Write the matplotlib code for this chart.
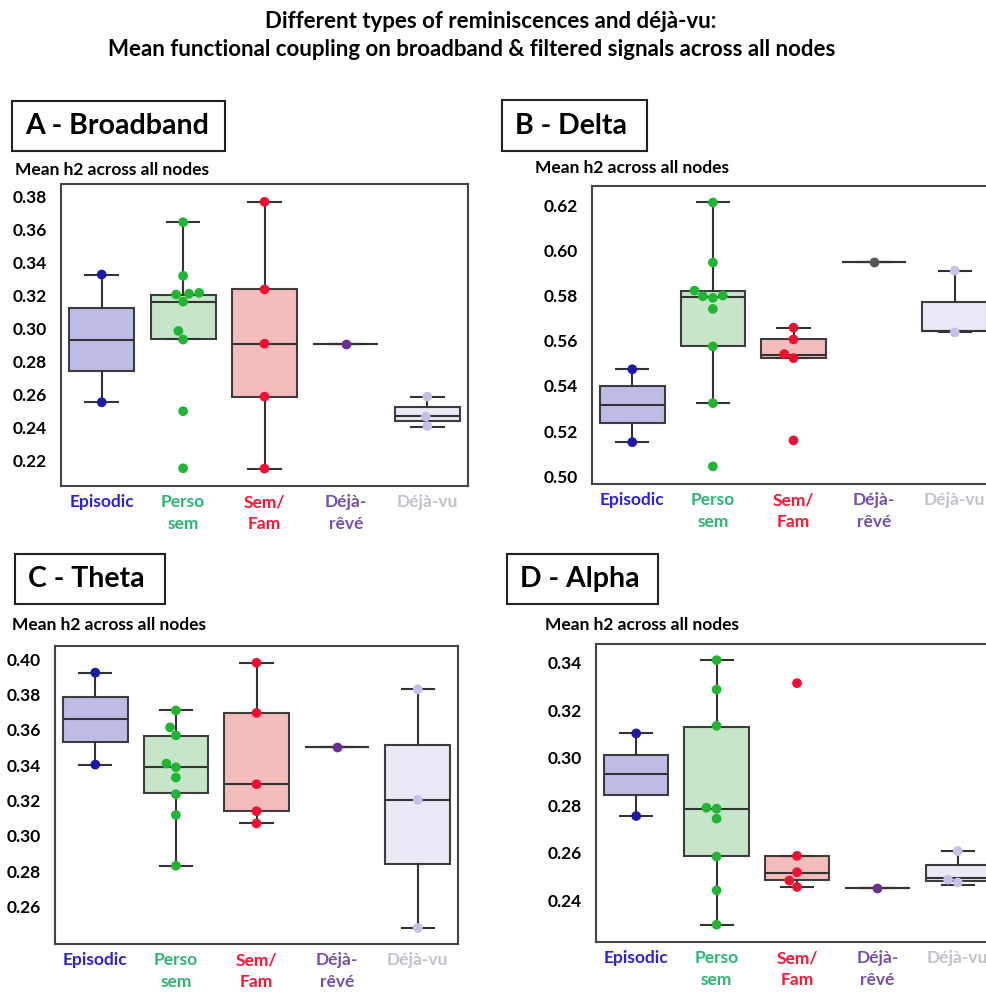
import matplotlib
matplotlib.use("Agg")
import matplotlib.pyplot as plt
from matplotlib.patches import Rectangle
import seaborn as sns
import pandas as pd

plt.rcParams['font.family'] = ['Lato', 'DejaVu Sans']
plt.rcParams['font.weight'] = 'bold'

categories = ['Episodic', 'Perso sem', 'Sem/Fam', 'Déjà-rêvé', 'Déjà-vu']
tick_labels = ['Episodic', 'Perso\nsem', 'Sem/\nFam', 'Déjà-\nrêvé', 'Déjà-vu']

# Box statistics (whisker low, Q1, median, Q3, whisker high)
broadband_lo = [0.2554, 0.2939, 0.2153, 0.2908, 0.2404]
broadband_q1 = [0.2741, 0.2939, 0.2588, 0.2908, 0.2438]
broadband_med = [0.2933, 0.3162, 0.2908, 0.2908, 0.2468]
broadband_q3 = [0.3124, 0.3201, 0.3236, 0.2908, 0.2528]
broadband_hi = [0.3326, 0.3642, 0.3765, 0.2908, 0.2588]
broadband_pts = [[0.3326, 0.2554],
                 [0.3642, 0.3318, 0.3215, 0.3210, 0.3205, 0.3162, 0.2985, 0.2933, 0.2500, 0.2155],
                 [0.3765, 0.3236, 0.2908, 0.2588, 0.2153],
                 [0.2908],
                 [0.2588, 0.2468, 0.2410]]

delta_lo = [0.5151, 0.5324, 0.5523, 0.5950, 0.5637]
delta_q1 = [0.5237, 0.5575, 0.5525, 0.5950, 0.5641]
delta_med = [0.5317, 0.5793, 0.5535, 0.5950, 0.5641]
delta_q3 = [0.5398, 0.5819, 0.5610, 0.5950, 0.5772]
delta_hi = [0.5474, 0.6212, 0.5658, 0.5950, 0.5910]
delta_pts = [[0.5474, 0.5151],
             [0.6212, 0.5946, 0.5822, 0.5800, 0.5797, 0.5790, 0.5741, 0.5575, 0.5324, 0.5044],
             [0.5658, 0.5606, 0.5541, 0.5523, 0.5159],
             [0.5950],
             [0.5910, 0.5637]]

theta_lo = [0.3403, 0.2830, 0.3070, 0.3504, 0.2478]
theta_q1 = [0.3534, 0.3243, 0.3139, 0.3504, 0.2841]
theta_med = [0.3664, 0.3391, 0.3292, 0.3504, 0.3204]
theta_q3 = [0.3788, 0.3565, 0.3696, 0.3504, 0.3515]
theta_hi = [0.3924, 0.3710, 0.3980, 0.3504, 0.3829]
theta_pts = [[0.3924, 0.3403],
             [0.3710, 0.3614, 0.3569, 0.3409, 0.3388, 0.3330, 0.3235, 0.3118, 0.2830],
             [0.3980, 0.3696, 0.3292, 0.3139, 0.3070],
             [0.3504],
             [0.3829, 0.3204, 0.2478]]

alpha_lo = [0.2755, 0.2297, 0.2456, 0.2452, 0.2466]
alpha_q1 = [0.2843, 0.2586, 0.2487, 0.2452, 0.2480]
alpha_med = [0.2931, 0.2786, 0.2513, 0.2452, 0.2492]
alpha_q3 = [0.3014, 0.3132, 0.2587, 0.2452, 0.2548]
alpha_hi = [0.3103, 0.3412, 0.2587, 0.2452, 0.2607]
alpha_pts = [[0.3103, 0.2755],
             [0.3412, 0.3288, 0.3135, 0.2790, 0.2786, 0.2744, 0.2584, 0.2442, 0.2297],
             [0.3315, 0.2587, 0.2518, 0.2483, 0.2456],
             [0.2452],
             [0.2607, 0.2487, 0.2475]]

box_colors = ['#b9b9e4', '#c3e4c6', '#f4b9b9', '#cdbfe6', '#ebe7f6']
point_colors = ['#1a1aa6', '#22b534', '#ef1030', '#6b2f93', '#c6bfe8']
label_colors = ['#2a22e0', '#2db673', '#ff1433', '#7450aa', '#c2c2ca']

# panel: (title, lo, q1, med, q3, hi, points, ticks, ylim, axes rect, title box, ylabel pos)
panels = [
    ('A - Broadband', broadband_lo, broadband_q1, broadband_med, broadband_q3, broadband_hi, broadband_pts,
     [0.22, 0.24, 0.26, 0.28, 0.30, 0.32, 0.34, 0.36, 0.38], (0.2048, 0.3873),
     (61, 184, 407, 302), (12, 101, 213, 50), (15, 170), None),
    ('B - Delta', delta_lo, delta_q1, delta_med, delta_q3, delta_hi, delta_pts,
     [0.50, 0.52, 0.54, 0.56, 0.58, 0.60, 0.62], (0.4966, 0.6285),
     (592, 186, 403, 298), (502, 100, 145, 51), (535, 168), '#555555'),
    ('C - Theta', theta_lo, theta_q1, theta_med, theta_q3, theta_hi, theta_pts,
     [0.26, 0.28, 0.30, 0.32, 0.34, 0.36, 0.38, 0.40], (0.2387, 0.4075),
     (55, 646, 403, 298), (15, 554, 150, 50), (12, 625), None),
    ('D - Alpha', alpha_lo, alpha_q1, alpha_med, alpha_q3, alpha_hi, alpha_pts,
     [0.24, 0.26, 0.28, 0.30, 0.32, 0.34], (0.2224, 0.348),
     (596, 644, 402, 298), (507, 554, 151, 50), (545, 625), None),
]

W, H = 987, 1001
fig = plt.figure(figsize=(W / 100, H / 100), dpi=100)

fig.text(491 / W, 1 - 22 / H, 'Different types of reminiscences and déjà-vu:',
         ha='center', va='center', fontsize=16, fontweight='bold')
fig.text(472 / W, 1 - 50 / H, 'Mean functional coupling on broadband & filtered signals across all nodes',
         ha='center', va='center', fontsize=16, fontweight='bold')

for (title, lo, q1, med, q3, hi, pts, ticks, ylim, rect, tbox, ylab, reve_col) in panels:
    x0, y0, w, h = rect
    ax = fig.add_axes([x0 / W, 1 - (y0 + h) / H, w / W, h / H])

    stats = []
    for i in range(len(categories)):
        stats.append(dict(whislo=lo[i], q1=q1[i], med=med[i], q3=q3[i], whishi=hi[i], fliers=[]))
    bp = ax.bxp(stats, positions=range(len(categories)), widths=0.8, capwidths=0.4,
                patch_artist=True, showfliers=False,
                boxprops=dict(edgecolor='#333333', linewidth=1.5),
                medianprops=dict(color='#333333', linewidth=1.5),
                whiskerprops=dict(color='#333333', linewidth=1.5),
                capprops=dict(color='#333333', linewidth=1.5))
    for patch, c in zip(bp['boxes'], box_colors):
        patch.set_facecolor(c)
        patch.set_alpha(0.95)

    rows = []
    for cat, vals in zip(categories, pts):
        for v in vals:
            rows.append({'cat': cat, 'val': v})
    df = pd.DataFrame(rows)
    pal = dict(zip(categories, point_colors))
    if reve_col:
        pal['Déjà-rêvé'] = reve_col
    sns.swarmplot(data=df, x='cat', y='val', hue='cat', order=categories, hue_order=categories,
                  palette=pal, size=7, legend=False, ax=ax, zorder=3)

    ax.set_xlim(-0.5, len(categories) - 0.5)
    ax.set_ylim(*ylim)
    ax.set_yticks(ticks)
    ax.set_yticklabels(['%.2f' % t for t in ticks])
    ax.set_xticks(range(len(categories)))
    ax.set_xticklabels(tick_labels, linespacing=1.45)
    for lab, c in zip(ax.get_xticklabels(), label_colors):
        lab.set_color(c)
        lab.set_fontweight('bold')
        lab.set_fontsize(12.5)
        lab.set_verticalalignment('top')
    for lab in ax.get_yticklabels():
        lab.set_fontweight('bold')
        lab.set_fontsize(12.5)
    ax.tick_params(axis='both', length=0)
    ax.tick_params(axis='y', pad=10)
    ax.tick_params(axis='x', pad=6)
    ax.set_xlabel('')
    ax.set_ylabel('')
    for s in ax.spines.values():
        s.set_color('#444444')
        s.set_linewidth(1.5)

    bx, by, bw, bh = tbox
    fig.patches.append(Rectangle((bx / W, 1 - (by + bh) / H), bw / W, bh / H,
                                 transform=fig.transFigure, fill=False,
                                 edgecolor='#222222', linewidth=1.5))
    fig.text((bx + 13) / W, 1 - (by + bh / 2) / H, title, ha='left', va='center',
             fontsize=20.5, fontweight='bold')
    fig.text(ylab[0] / W, 1 - ylab[1] / H, 'Mean h2 across all nodes', ha='left', va='center',
             fontsize=12.5, fontweight='bold')

fig.savefig('out.png', dpi=100)
